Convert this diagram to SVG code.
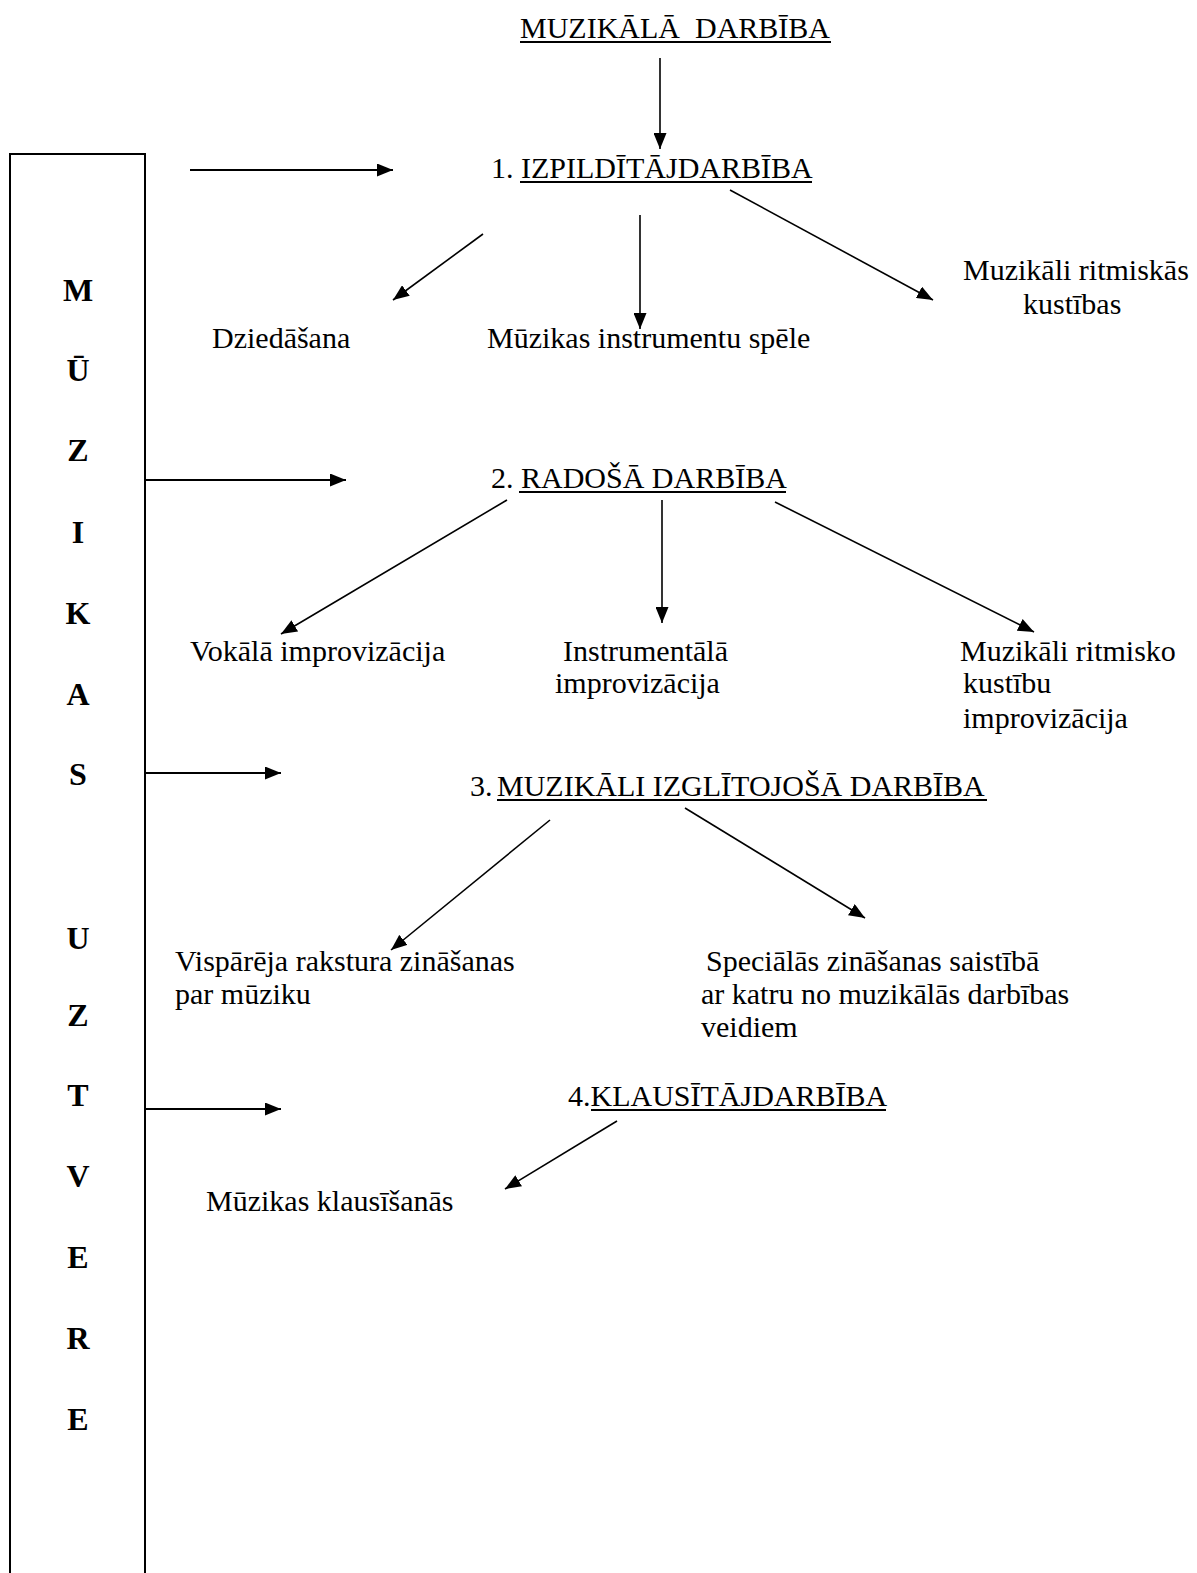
<svg xmlns="http://www.w3.org/2000/svg" width="1197" height="1573" viewBox="0 0 1197 1573">
  <style>
    text { font-family: "Liberation Serif", "Times New Roman", serif; font-size: 30px; fill: #000; }
    .side { font-weight: bold; font-size: 32px; text-anchor: middle; }
    .ul { stroke: #000; stroke-width: 2; }
    .conn line { stroke: #000; stroke-width: 1.6; fill: none; marker-end: url(#head); }
    .conn line.thick { stroke-width: 2.2; }
  </style>
  <defs>
    <marker id="head" markerUnits="userSpaceOnUse" markerWidth="17" markerHeight="13" refX="16" refY="6.5" orient="auto">
      <path d="M0,0 L16,6.5 L0,13 Z" fill="#000"/>
    </marker>
  </defs>

  <rect width="1197" height="1573" fill="#fff"/>

  <!-- vertical side panel, open at the bottom -->
  <g id="side-panel">
    <path d="M10,1573 L10,154 L145,154 L145,1573" fill="none" stroke="#000" stroke-width="2"/>
    <text class="side" x="78" y="301">M</text>
    <text class="side" x="78" y="381">Ū</text>
    <text class="side" x="78" y="461">Z</text>
    <text class="side" x="78" y="543">I</text>
    <text class="side" x="78" y="624">K</text>
    <text class="side" x="78" y="705">A</text>
    <text class="side" x="78" y="785">S</text>
    <text class="side" x="78" y="949">U</text>
    <text class="side" x="78" y="1026">Z</text>
    <text class="side" x="78" y="1106">T</text>
    <text class="side" x="78" y="1187">V</text>
    <text class="side" x="78" y="1268">E</text>
    <text class="side" x="78" y="1349">R</text>
    <text class="side" x="78" y="1430">E</text>
  </g>

  <g id="title">
    <text x="520" y="38">MUZIKĀLĀ&#160; DARBĪBA</text>
    <line class="ul" x1="520" y1="42" x2="831" y2="42"/>
  </g>

  <g id="n1">
    <text x="491" y="178">1. IZPILDĪTĀJDARBĪBA</text>
    <line class="ul" x1="520" y1="182" x2="812" y2="182"/>
  </g>
  <g id="n1a"><text x="212" y="348">Dziedāšana</text></g>
  <g id="n1b"><text x="487" y="348">Mūzikas instrumentu spēle</text></g>
  <g id="n1c">
    <text x="963" y="280">Muzikāli ritmiskās</text>
    <text x="1023" y="314">kustības</text>
  </g>

  <g id="n2">
    <text x="491" y="488">2. RADOŠĀ DARBĪBA</text>
    <line class="ul" x1="519" y1="492" x2="786" y2="492"/>
  </g>
  <g id="n2a"><text x="190" y="661">Vokālā improvizācija</text></g>
  <g id="n2b">
    <text x="563" y="661">Instrumentālā</text>
    <text x="555" y="693">improvizācija</text>
  </g>
  <g id="n2c">
    <text x="960" y="661">Muzikāli ritmisko</text>
    <text x="963" y="693">kustību</text>
    <text x="963" y="728">improvizācija</text>
  </g>

  <g id="n3">
    <text x="470" y="796">3.</text>
    <text x="497" y="796">MUZIKĀLI IZGLĪTOJOŠĀ DARBĪBA</text>
    <line class="ul" x1="497" y1="800" x2="987" y2="800"/>
  </g>
  <g id="n3a">
    <text x="175" y="971">Vispārēja rakstura zināšanas</text>
    <text x="175" y="1004">par mūziku</text>
  </g>
  <g id="n3b">
    <text x="706" y="971">Speciālās zināšanas saistībā</text>
    <text x="701" y="1004">ar katru no muzikālās darbības</text>
    <text x="701" y="1037">veidiem</text>
  </g>

  <g id="n4">
    <text x="568" y="1106">4.KLAUSĪTĀJDARBĪBA</text>
    <line class="ul" x1="591" y1="1110" x2="886" y2="1110"/>
  </g>
  <g id="n4a"><text x="206" y="1211">Mūzikas klausīšanās</text></g>

  <g id="connectors" class="conn">
    <line x1="660" y1="58" x2="660" y2="149"/>
    <line class="thick" x1="190" y1="170" x2="393" y2="170"/>
    <line class="thick" x1="146" y1="480" x2="346" y2="480"/>
    <line class="thick" x1="146" y1="773" x2="281" y2="773"/>
    <line class="thick" x1="146" y1="1109" x2="281" y2="1109"/>

    <line x1="483" y1="234" x2="393" y2="300"/>
    <line x1="640" y1="215" x2="640" y2="329"/>
    <line x1="730" y1="190" x2="933" y2="300"/>

    <line x1="507" y1="500" x2="281" y2="634"/>
    <line x1="662" y1="500" x2="662" y2="623"/>
    <line x1="775" y1="502" x2="1034" y2="632"/>

    <line x1="550" y1="820" x2="391" y2="950"/>
    <line x1="685" y1="808" x2="865" y2="918"/>

    <line x1="617" y1="1121" x2="505" y2="1189"/>
  </g>
</svg>
